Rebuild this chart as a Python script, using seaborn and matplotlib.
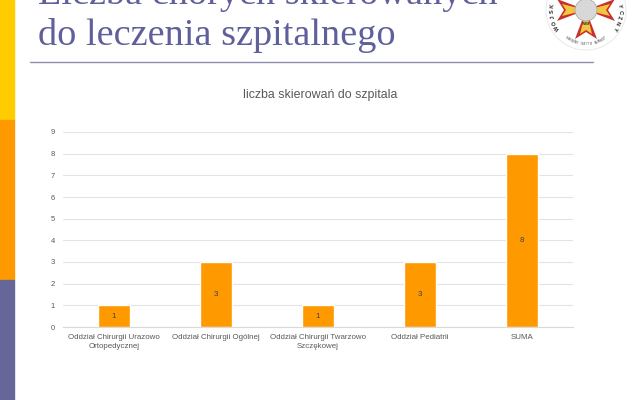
import matplotlib
matplotlib.use("Agg")
import matplotlib.pyplot as plt
from matplotlib.patches import Rectangle, Circle, Polygon
from matplotlib.lines import Line2D
import seaborn as sns
import pandas as pd
import numpy as np

# data
categories = ["Oddział Chirurgii Urazowo\nOrtopedycznej", "Oddział Chirurgii Ogólnej",
              "Oddział Chirurgii Twarzowo\nSzczękowej", "Oddział Pediatrii", "SUMA"]
values = [1, 3, 1, 3, 8]
y_ticks = [0, 1, 2, 3, 4, 5, 6, 7, 8, 9]

chart_title = "liczba skierowań do szpitala"
slide_title_1 = "Liczba chorych skierowanych"
slide_title_2 = "do leczenia szpitalnego"
logo_top = "WOJSKOWY INSTYTUT MEDYCZNY"
logo_bottom = "NARODOWY INSTYTUT BADAWCZY"

sns.set_theme(style="white")
plt.rcParams['font.family'] = ['Liberation Sans', 'DejaVu Sans']

W, H = 636, 400
fig = plt.figure(figsize=(W / 100, H / 100), dpi=100)
fig.patch.set_facecolor("white")

# left colour strip of the slide
fig.patches.append(Rectangle((0, 1 - 120 / H), 14 / W, 120 / H, transform=fig.transFigure, color="#FFCC00", zorder=0))
fig.patches.append(Rectangle((0, 1 - 280 / H), 14 / W, 160 / H, transform=fig.transFigure, color="#FF9900", zorder=0))
fig.patches.append(Rectangle((0, 0), 14 / W, 120 / H, transform=fig.transFigure, color="#666699", zorder=0))

# slide title (first line is cut by the top edge, as on the slide)
fig.text(38 / W, 1 - 4 / H, slide_title_1, family="Liberation Serif", fontsize=27.5, color="#5F5F9B", va="baseline")
fig.text(38 / W, 1 - 45 / H, slide_title_2, family="Liberation Serif", fontsize=27.5, color="#5F5F9B", va="baseline")
fig.lines.append(Line2D([30 / W, 593 / W], [1 - 61.5 / H, 1 - 61.5 / H], transform=fig.transFigure, color="#8E8EAE", lw=1))

# logo (rough)
cx, cy = 586, H - 10
fig.patches.append(Circle((cx, cy), 40, transform=None, facecolor="white", edgecolor="#E6E6E6", lw=0.6, zorder=3))
for dx, dy in [(0, 1), (1, 0), (0, -1), (-1, 0)]:
    px, py = -dy, dx
    L = 29
    outer = [(cx, cy),
             (cx + dx * L + px * 11, cy + dy * L + py * 11),
             (cx + dx * (L - 7), cy + dy * (L - 7)),
             (cx + dx * L - px * 11, cy + dy * L - py * 11)]
    inner = [(cx, cy),
             (cx + dx * (L - 5) + px * 6, cy + dy * (L - 5) + py * 6),
             (cx + dx * (L - 9), cy + dy * (L - 9)),
             (cx + dx * (L - 5) - px * 6, cy + dy * (L - 5) - py * 6)]
    fig.patches.append(Polygon(outer, closed=True, transform=None, facecolor="#C9302C", edgecolor="none", zorder=4))
    fig.patches.append(Polygon(inner, closed=True, transform=None, facecolor="#F2C641", edgecolor="none", zorder=4))
fig.patches.append(Circle((cx, cy), 11, transform=None, facecolor="#D8D8D8", edgecolor="#A0A0A0", lw=0.5, zorder=5))
fig.text(cx / W, (cy - 14) / H, "WIM", fontsize=2.5, weight="bold", color="#333333", ha="center", va="center", zorder=6)

n = len(logo_top)
for k, ch in enumerate(logo_top):
    ang = np.deg2rad(212 - k * (244 / (n - 1)))
    ty = cy + 34 * np.sin(ang)
    if ty > H - 3:
        continue
    fig.text((cx + 34 * np.cos(ang)) / W, ty / H, ch, fontsize=4, weight="bold",
             color="#222222", ha="center", va="center", rotation=np.rad2deg(ang) - 90, zorder=6)
m = len(logo_bottom)
for k, ch in enumerate(logo_bottom):
    ang = np.deg2rad(235 + k * (70 / (m - 1)))
    fig.text((cx + 34 * np.cos(ang)) / W, (cy + 34 * np.sin(ang)) / H, ch, fontsize=1.8,
             color="#444444", ha="center", va="center", rotation=np.rad2deg(ang) + 90, zorder=6)

# chart
ax = fig.add_axes([63 / W, 73 / H, 510 / W, 195 / H])
df = pd.DataFrame({"cat": categories, "val": values})
sns.barplot(data=df, x="cat", y="val", color="#FF9900", width=0.31, saturation=1, ax=ax, zorder=3)

ax.set_ylim(0, 9)
ax.set_yticks(y_ticks)
ax.set_xlim(-0.5, len(categories) - 0.5)
ax.yaxis.grid(True, color="#E3E3E3", lw=0.8, zorder=0)
ax.set_axisbelow(True)
for s in ["top", "right", "left"]:
    ax.spines[s].set_visible(False)
ax.spines["bottom"].set_color("#D9D9D9")
ax.spines["bottom"].set_linewidth(0.8)
ax.tick_params(axis="y", length=0, labelsize=5.5, colors="#595959", pad=6)
ax.tick_params(axis="x", length=0, labelsize=5.7, colors="#595959", pad=5)
for lbl in ax.get_xticklabels():
    lbl.set_linespacing(1.35)
ax.set_xlabel("")
ax.set_ylabel("")

for i, v in enumerate(values):
    ax.text(i, v / 2, str(v), ha="center", va="center", fontsize=5.8, color="#404040", zorder=5)

fig.text(320 / W, 1 - 95 / H, chart_title, ha="center", va="center", fontsize=8.9, color="#595959")

fig.savefig("out.png", dpi=100, facecolor="white")
